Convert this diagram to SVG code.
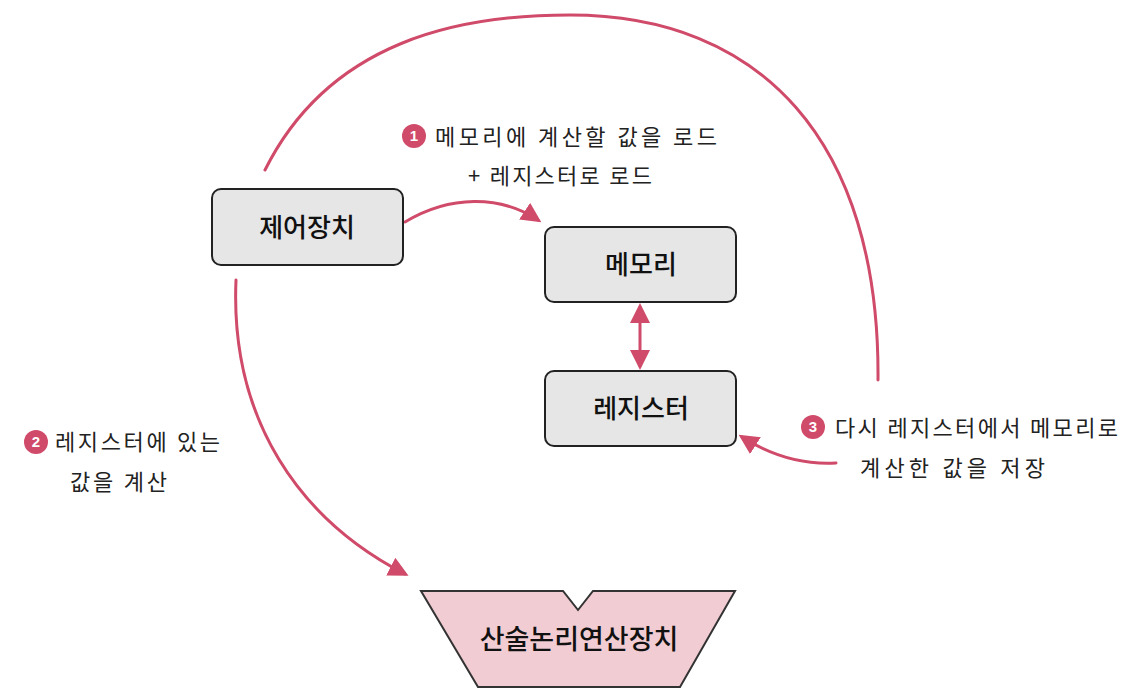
<svg xmlns="http://www.w3.org/2000/svg" width="1144" height="696" viewBox="0 0 1144 696">
<style>
.box{fill:#e6e6e6;stroke:#222;stroke-width:2}
.alu{fill:#f1cdd3;stroke:#333;stroke-width:2}
.lbl{font-family:"Noto Sans CJK KR","Noto Sans",sans-serif;font-size:26px;font-weight:500;fill:#111;text-anchor:middle}
.txt{font-family:"Noto Sans CJK KR","Noto Sans",sans-serif;font-size:22px;fill:#222}
.con{fill:none;stroke:#d04a6a;stroke-width:3;stroke-linecap:round}
.num{fill:#d04a6a}
.numt{font-family:"Liberation Sans",sans-serif;font-size:15px;fill:#fff;text-anchor:middle;font-weight:bold}
</style>
<defs>
<marker id="ahb" viewBox="0 0 10 10" refX="8" refY="5" markerWidth="20" markerHeight="20" orient="auto-start-reverse" markerUnits="userSpaceOnUse">
<path d="M0,0 L10,5 L0,10 z" fill="#d04a6a"/>
</marker>
</defs>
<g id="connectors">
<path class="con" d="M265,170 C330,40 460,15 570,15 C760,15 880,140 878,380"/>
<path class="con" d="M405,222 C450,195 500,195 538,220" marker-end="url(#ahb)"/>
<path class="con" d="M236,280 C230,420 300,520 405,574" marker-end="url(#ahb)"/>
<path class="con" d="M640,307 L640,366" marker-start="url(#ahb)" marker-end="url(#ahb)"/>
<path class="con" d="M836,463 C800,465 770,455 742,437" marker-end="url(#ahb)"/>
</g>
<g id="control">
<rect class="box" x="212" y="189" width="191" height="76" rx="9"/>
<text class="lbl" x="307" y="237">제어장치</text>
</g>
<g id="memory">
<rect class="box" x="545" y="227" width="191" height="75" rx="9"/>
<text class="lbl" x="641" y="274">메모리</text>
</g>
<g id="register">
<rect class="box" x="545" y="371" width="191" height="75" rx="9"/>
<text class="lbl" x="641" y="418">레지스터</text>
</g>
<g id="alu">
<path class="alu" d="M421,591 L563,591 L578,610 L593,591 L735,591 L680,687 L478,687 Z"/>
<text class="lbl" x="579" y="649" style="font-size:27px">산술논리연산장치</text>
</g>
<g id="label1">
<circle class="num" cx="414" cy="136" r="12"/>
<text class="numt" x="414" y="141">1</text>
<text class="txt" x="435" y="145" textLength="282" lengthAdjust="spacing">메모리에 계산할 값을 로드</text>
<text class="txt" x="468" y="184" textLength="184" lengthAdjust="spacing">+ 레지스터로 로드</text>
</g>
<g id="label2">
<circle class="num" cx="36" cy="442" r="12"/>
<text class="numt" x="36" y="447">2</text>
<text class="txt" x="55" y="450" textLength="165" lengthAdjust="spacing">레지스터에 있는</text>
<text class="txt" x="70" y="490" textLength="97" lengthAdjust="spacing">값을 계산</text>
</g>
<g id="label3">
<circle class="num" cx="813" cy="427" r="12"/>
<text class="numt" x="813" y="432">3</text>
<text class="txt" x="835" y="436" textLength="283" lengthAdjust="spacing">다시 레지스터에서 메모리로</text>
<text class="txt" x="860" y="476" textLength="185" lengthAdjust="spacing">계산한 값을 저장</text>
</g>
</svg>
